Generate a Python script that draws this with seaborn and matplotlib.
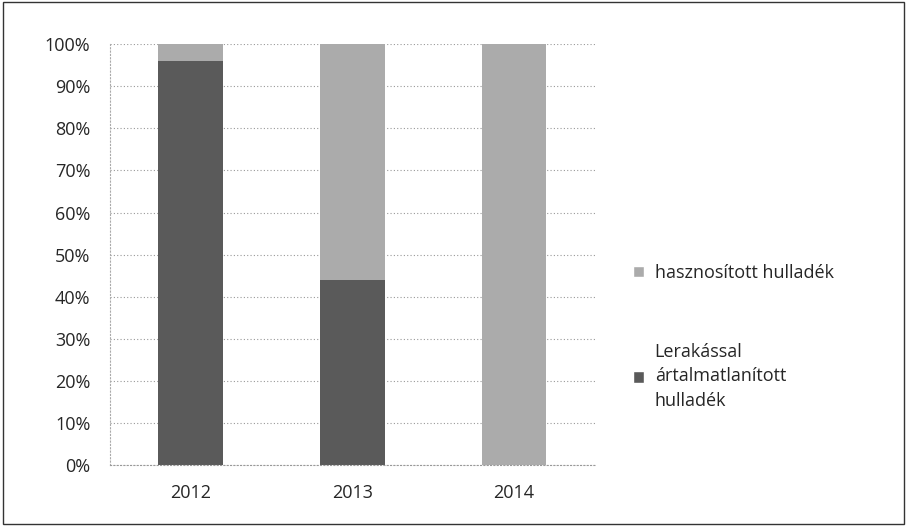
import pandas as pd
import numpy as np
import matplotlib.pyplot as plt
from matplotlib.patches import Patch
import seaborn as sns

years = ['2012', '2013', '2014']
lerakassal = [96, 44, 0]
hasznositott = [4, 56, 100]

sns.set_style('white')
plt.rcParams['font.family'] = ['Open Sans', 'DejaVu Sans']

df = pd.DataFrame({'ev': years, 'lerak': lerakassal, 'haszn': hasznositott})
df['osszes'] = df['lerak'] + df['haszn']

fig = plt.figure(figsize=(9.07, 5.26), dpi=100)
ax = fig.add_axes([0.121, 0.116, 0.535, 0.800])

szin_vilagos = '#ababab'
szin_sotet = '#5a5a5a'

sns.barplot(data=df, x='ev', y='osszes', color=szin_vilagos, width=0.4,
            saturation=1, linewidth=0, ax=ax)
sns.barplot(data=df, x='ev', y='lerak', color=szin_sotet, width=0.4,
            saturation=1, linewidth=0, ax=ax)

ax.set_ylim(0, 100)
ax.set_yticks(np.arange(0, 101, 10))
ax.set_yticklabels([f'{v}%' for v in range(0, 101, 10)], fontsize=13)
ax.tick_params(axis='x', labelsize=13, length=0, pad=14)
ax.tick_params(axis='y', length=0, pad=14)
ax.set_xlabel('')
ax.set_ylabel('')
ax.yaxis.grid(True, color='#999999', linestyle=(0, (1, 2)), linewidth=0.8)
ax.set_axisbelow(True)
for s in ['top', 'right']:
    ax.spines[s].set_visible(False)
ax.spines['left'].set_color('#aaaaaa')
ax.spines['left'].set_linestyle((0, (1, 2)))
ax.spines['bottom'].set_color('#999999')
ax.spines['bottom'].set_linestyle((0, (1, 2)))

handles = [Patch(facecolor=szin_vilagos, label='hasznosított hulladék'),
           Patch(facecolor=szin_sotet, label='Lerakással\nártalmatlanított\nhulladék')]
leg = fig.legend(handles=handles, loc='center left', bbox_to_anchor=(0.68, 0.36),
                 frameon=False, fontsize=13, handlelength=0.6, handleheight=0.6,
                 handletextpad=0.6, labelspacing=3.4)
for t in leg.get_texts():
    t.set_linespacing(1.45)

fig.patches.append(plt.Rectangle((0.003, 0.003), 0.994, 0.994, transform=fig.transFigure,
                                 fill=False, edgecolor='#333333', linewidth=1))

fig.savefig('out.png', dpi=100)
